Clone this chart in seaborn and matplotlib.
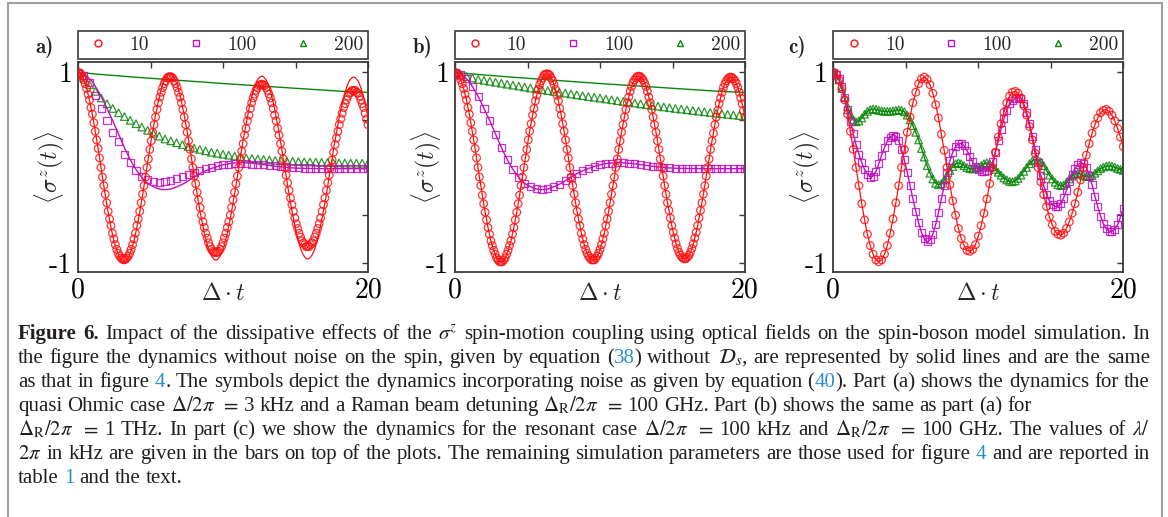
import re
import numpy as np
import matplotlib
matplotlib.use("Agg")
import matplotlib.pyplot as plt
import seaborn as sns
from matplotlib.lines import Line2D
from matplotlib.patches import Rectangle

W, H = 1168, 517

# ---------------- data ----------------
legend_labels = ["10", "100", "200"]

# noise-free dynamics (solid lines), shared by panels a and b
red_line = [1.00, 0.99, 0.98, 0.96, 0.92, 0.88, 0.83, 0.77, 0.71, 0.63, 0.56, 0.47, 0.38, 0.29, 0.20, 0.10, 0.00,
            -0.10, -0.19, -0.29, -0.38, -0.47, -0.55, -0.63, -0.70, -0.77, -0.82, -0.87, -0.91, -0.95, -0.97, -0.99,
            -0.99,
            -0.99, -0.97, -0.95, -0.91, -0.87, -0.82, -0.77, -0.70, -0.63, -0.55, -0.47, -0.38, -0.29, -0.19, -0.10, 0.00,
            0.10, 0.19, 0.29, 0.38, 0.46, 0.55, 0.62, 0.70, 0.76, 0.82, 0.87, 0.91, 0.94, 0.97, 0.98,
            0.985,
            0.98, 0.97, 0.94, 0.91, 0.87, 0.82, 0.76, 0.70, 0.62, 0.55, 0.46, 0.38, 0.29, 0.19, 0.10, 0.00,
            -0.10, -0.19, -0.28, -0.37, -0.46, -0.54, -0.61, -0.69, -0.75, -0.81, -0.86, -0.90, -0.93, -0.95, -0.97,
            -0.97,
            -0.97, -0.95, -0.93, -0.90, -0.86, -0.81, -0.75, -0.69, -0.61, -0.54, -0.46, -0.37, -0.28, -0.19, -0.10, 0.00,
            0.09, 0.19, 0.28, 0.37, 0.45, 0.53, 0.61, 0.68, 0.74, 0.80, 0.85, 0.89, 0.92, 0.94, 0.955,
            0.96,
            0.955, 0.94, 0.92, 0.89, 0.85, 0.80, 0.74, 0.68, 0.61, 0.53, 0.45, 0.37, 0.28, 0.19, 0.09, 0.00,
            -0.09, -0.19, -0.28, -0.37, -0.45, -0.53, -0.61, -0.68, -0.74, -0.80, -0.85, -0.89, -0.92, -0.94, -0.955,
            -0.96,
            -0.955, -0.94, -0.92, -0.89, -0.85, -0.80, -0.74, -0.68, -0.61, -0.53, -0.45, -0.37, -0.28, -0.19, -0.09, 0.00,
            0.09, 0.19, 0.28, 0.36, 0.45, 0.53, 0.60, 0.67, 0.73, 0.79, 0.84, 0.88, 0.91, 0.93, 0.945,
            0.95,
            0.945, 0.93, 0.91, 0.88, 0.84, 0.79, 0.73, 0.67, 0.60, 0.53]

magenta_line = [1.00, 0.995, 0.98, 0.96, 0.93, 0.90, 0.85, 0.80, 0.745, 0.685,
                0.62, 0.555, 0.49, 0.42, 0.35, 0.28, 0.21, 0.145, 0.085, 0.03,
                -0.02, -0.065, -0.105, -0.14, -0.165, -0.185, -0.20, -0.215, -0.225, -0.23,
                -0.232, -0.23, -0.225, -0.215, -0.203, -0.19, -0.175, -0.16, -0.14, -0.12,
                -0.10, -0.08, -0.065, -0.05, -0.035, -0.022, -0.01, 0.0, 0.01, 0.02,
                0.028, 0.034, 0.04, 0.044, 0.047, 0.049, 0.05, 0.05, 0.049, 0.047,
                0.045, 0.042, 0.038, 0.034, 0.03, 0.026, 0.022, 0.018, 0.014, 0.01,
                0.007, 0.004, 0.001, -0.002, -0.004, -0.006, -0.007, -0.008, -0.009, -0.01,
                -0.01, -0.011, -0.011, -0.011, -0.012, -0.012, -0.012, -0.012, -0.012, -0.012,
                -0.012, -0.012, -0.012, -0.012, -0.012, -0.012, -0.012, -0.012, -0.012, -0.012,
                -0.012]

green_line = [1.0, 0.985, 0.972, 0.96, 0.948, 0.937, 0.926, 0.915, 0.904, 0.893, 0.882,
              0.872, 0.862, 0.852, 0.842, 0.832, 0.822, 0.812, 0.802, 0.795, 0.788]

# panel a symbols (with spin noise, Delta_R/2pi = 100 GHz)
red_a_sym = [1.00, 0.99, 0.98, 0.96, 0.92, 0.88, 0.83, 0.77, 0.71, 0.63, 0.56, 0.47, 0.38, 0.29, 0.20, 0.10, 0.00,
             -0.10, -0.19, -0.28, -0.37, -0.46, -0.54, -0.61, -0.69, -0.75, -0.81, -0.86, -0.90, -0.93, -0.95, -0.965,
             -0.97,
             -0.965, -0.95, -0.93, -0.90, -0.86, -0.81, -0.75, -0.69, -0.61, -0.54, -0.46, -0.37, -0.28, -0.19, -0.10, 0.00,
             0.09, 0.19, 0.28, 0.37, 0.45, 0.53, 0.61, 0.68, 0.74, 0.79, 0.84, 0.88, 0.91, 0.94, 0.95,
             0.955,
             0.95, 0.94, 0.91, 0.88, 0.84, 0.79, 0.74, 0.68, 0.61, 0.53, 0.45, 0.37, 0.28, 0.19, 0.09, 0.00,
             -0.09, -0.17, -0.26, -0.34, -0.42, -0.50, -0.57, -0.63, -0.69, -0.74, -0.79, -0.83, -0.86, -0.88, -0.89,
             -0.895,
             -0.89, -0.88, -0.86, -0.83, -0.79, -0.74, -0.69, -0.63, -0.57, -0.50, -0.42, -0.34, -0.26, -0.17, -0.09, 0.00,
             0.09, 0.17, 0.25, 0.34, 0.41, 0.49, 0.55, 0.62, 0.68, 0.73, 0.77, 0.81, 0.84, 0.86, 0.87,
             0.875,
             0.87, 0.86, 0.84, 0.81, 0.77, 0.73, 0.68, 0.62, 0.55, 0.49, 0.41, 0.34, 0.25, 0.17, 0.09, 0.00,
             -0.08, -0.16, -0.24, -0.32, -0.39, -0.46, -0.53, -0.59, -0.64, -0.69, -0.73, -0.77, -0.79, -0.81, -0.83,
             -0.83,
             -0.83, -0.81, -0.79, -0.77, -0.73, -0.69, -0.64, -0.59, -0.53, -0.46, -0.39, -0.32, -0.24, -0.16, -0.08, 0.00,
             0.08, 0.16, 0.24, 0.31, 0.38, 0.45, 0.51, 0.57, 0.63, 0.67, 0.71, 0.75, 0.78, 0.79, 0.81,
             0.81,
             0.81, 0.79, 0.78, 0.75, 0.71, 0.67, 0.63, 0.57, 0.51, 0.45]

magenta_a_sym = [1.0, 0.97, 0.89, 0.76, 0.62, 0.49, 0.37, 0.27, 0.14, 0.05,
                 -0.03, -0.09, -0.13, -0.15, -0.155, -0.15, -0.135, -0.115, -0.095, -0.075,
                 -0.055, -0.035, -0.015, 0.005, 0.02, 0.03, 0.035, 0.04, 0.04, 0.04,
                 0.035, 0.035, 0.03, 0.025, 0.02, 0.015, 0.01, 0.005, 0.0, -0.005,
                 -0.005, -0.01, -0.01, -0.01, -0.01, -0.01, -0.01, -0.01, -0.01, -0.01,
                 -0.01]

green_a_sym = [1.0, 0.94, 0.87, 0.80, 0.73, 0.67, 0.62, 0.575, 0.535, 0.495,
               0.46, 0.425, 0.39, 0.36, 0.33, 0.30, 0.28, 0.26, 0.24, 0.22,
               0.205, 0.19, 0.175, 0.16, 0.15, 0.14, 0.13, 0.12, 0.11, 0.10,
               0.095, 0.09, 0.085, 0.08, 0.075, 0.07, 0.068, 0.065, 0.062, 0.06,
               0.058, 0.056, 0.054, 0.052, 0.05, 0.049, 0.048, 0.047, 0.046, 0.045,
               0.045]

# panel b symbols (Delta_R/2pi = 1 THz): red and magenta sit on the solid lines
green_b_sym = [1.0, 0.975, 0.955, 0.94, 0.925, 0.915, 0.905, 0.895, 0.885, 0.875,
               0.865, 0.855, 0.845, 0.835, 0.826, 0.817, 0.808, 0.799, 0.79, 0.781,
               0.772, 0.763, 0.754, 0.745, 0.737, 0.729, 0.72, 0.711, 0.702, 0.694,
               0.686, 0.677, 0.668, 0.66, 0.652, 0.644, 0.636, 0.628, 0.62, 0.613,
               0.606, 0.599, 0.592, 0.585, 0.578, 0.571, 0.565, 0.558, 0.552, 0.546,
               0.54]

# panel c (resonant case): symbols sit on the lines
red_c = [1.00, 0.98, 0.92, 0.83, 0.71, 0.56, 0.38, 0.19, 0.00,
         -0.19, -0.38, -0.55, -0.70, -0.82, -0.91, -0.97, -0.99,
         -0.97, -0.91, -0.82, -0.69, -0.54, -0.37, -0.19, 0.00,
         0.19, 0.37, 0.53, 0.68, 0.79, 0.88, 0.93, 0.95,
         0.925, 0.87, 0.78, 0.66, 0.52, 0.35, 0.18, 0.00,
         -0.18, -0.35, -0.50, -0.64, -0.745, -0.82, -0.87, -0.88,
         -0.86, -0.81, -0.72, -0.61, -0.48, -0.33, -0.17, 0.00,
         0.16, 0.32, 0.46, 0.58, 0.68, 0.75, 0.79, 0.80,
         0.78, 0.73, 0.65, 0.55, 0.43, 0.29, 0.15, 0.00,
         -0.15, -0.285, -0.41, -0.52, -0.60, -0.67, -0.70, -0.71,
         -0.69, -0.64, -0.57, -0.48, -0.38, -0.26, -0.13, 0.00,
         0.13, 0.25, 0.36, 0.45, 0.52, 0.575, 0.60, 0.61,
         0.59, 0.55, 0.49, 0.41, 0.32, 0.22]

magenta_c = [1.00, 0.98, 0.93, 0.85, 0.74, 0.61, 0.48, 0.36, 0.24, 0.14,
             0.05, -0.02, -0.07, -0.10, -0.09, -0.04, 0.04, 0.13, 0.21, 0.28,
             0.32, 0.34, 0.33, 0.28, 0.19, 0.08, -0.05, -0.19, -0.33, -0.46,
             -0.58, -0.68, -0.75, -0.78, -0.76, -0.70, -0.60, -0.47, -0.33, -0.19,
             -0.05, 0.07, 0.16, 0.22, 0.25, 0.255, 0.23, 0.18, 0.12, 0.06,
             0.01, -0.02, -0.04, -0.04, -0.03, 0.0, 0.06, 0.16, 0.28, 0.40,
             0.51, 0.60, 0.67, 0.70, 0.725, 0.735, 0.72, 0.67, 0.58, 0.46,
             0.33, 0.19, 0.05, -0.08, -0.19, -0.28, -0.35, -0.39, -0.41, -0.41,
             -0.38, -0.32, -0.24, -0.15, -0.07, -0.01, 0.03, 0.05, 0.04, 0.0,
             -0.08, -0.18, -0.30, -0.41, -0.51, -0.59, -0.64, -0.67, -0.67, -0.65,
             -0.60, -0.52, -0.43]

green_c = [1.0, 0.97, 0.92, 0.83, 0.74, 0.64, 0.56, 0.50, 0.48, 0.49,
           0.52, 0.56, 0.59, 0.61, 0.615, 0.61, 0.60, 0.595, 0.59, 0.59,
           0.59, 0.595, 0.60, 0.605, 0.60, 0.585, 0.55, 0.50, 0.44, 0.37,
           0.29, 0.20, 0.11, 0.02, -0.06, -0.12, -0.165, -0.18, -0.17, -0.13,
           -0.08, -0.03, 0.01, 0.04, 0.05, 0.04, 0.02, 0.0, -0.01, -0.015,
           -0.01, 0.0, 0.02, 0.04, 0.05, 0.04, 0.01, -0.02, -0.05, -0.08,
           -0.11, -0.13, -0.145, -0.15, -0.14, -0.115, -0.08, -0.04, 0.0, 0.04,
           0.07, 0.085, 0.08, 0.06, 0.02, -0.03, -0.08, -0.12, -0.155, -0.18,
           -0.19, -0.185, -0.16, -0.12, -0.09, -0.065, -0.06, -0.07, -0.085, -0.095,
           -0.095, -0.085, -0.06, -0.035, -0.01, 0.005, 0.015, 0.02, 0.015, 0.005,
           -0.01, -0.02, -0.03]

caption_lines = [
    r"Figure 6. Impact of the dissipative effects of the $\sigma^z$ spin-motion coupling using optical fields on the spin-boson model simulation. In",
    r"the figure the dynamics without noise on the spin, given by equation ([38]) without $\mathcal{D}_s$, are represented by solid lines and are the same",
    r"as that in figure [4]. The symbols depict the dynamics incorporating noise as given by equation ([40]). Part (a) shows the dynamics for the",
    r"quasi Ohmic case $\Delta/2\pi$ $=$ 3 kHz and a Raman beam detuning $\Delta_\mathrm{R}/2\pi$ $=$ 100 GHz. Part (b) shows the same as part (a) for",
    r"$\Delta_\mathrm{R}/2\pi$ $=$ 1 THz. In part (c) we show the dynamics for the resonant case $\Delta/2\pi$ $=$ 100 kHz and $\Delta_\mathrm{R}/2\pi$ $=$ 100 GHz. The values of $\lambda/$",
    r"$2\pi$ in kHz are given in the bars on top of the plots. The remaining simulation parameters are those used for figure [4] and are reported in",
    r"table [1] and the text.",
]
ragged_lines = {3, 6}   # lines that are not stretched to the full width

# ---------------- style ----------------
sns.set_style("white")
plt.rcParams["font.family"] = ["Liberation Serif", "DejaVu Serif"]

RED = "#ff1010"
MAG = "#c010c0"
GRN = "#0a860a"
FRAME = "#3a3a3a"
BLUE = "#2a8fd0"

fig = plt.figure(figsize=(W / 100, H / 100), dpi=100)
fig.patch.set_facecolor("white")


def tgrid(vals):
    return np.linspace(0, 20, len(vals))


def sym(ax, vals, color, marker, s, z):
    sns.scatterplot(x=tgrid(vals), y=np.asarray(vals), ax=ax, marker=marker, s=s,
                    color=color, facecolor="none", edgecolor=color, linewidth=0.9,
                    alpha=0.85, legend=False, zorder=z)


def line(ax, vals, color, lw, z):
    sns.lineplot(x=tgrid(vals), y=np.asarray(vals), ax=ax, color=color, linewidth=lw,
                 legend=False, errorbar=None, sort=False, zorder=z)


def setup(ax):
    ax.set_xlim(0, 20)
    ax.set_ylim(-1.097, 1.108)
    ax.set_xticks([0, 5, 10, 15, 20])
    ax.set_xticklabels(["0", "", "", "", "20"], fontfamily="cmr10", fontsize=20)
    ax.set_yticks([-1, -0.5, 0, 0.5, 1])
    ax.set_yticklabels(["-1", "", "", "", "1"], fontfamily="cmr10", fontsize=20)
    ax.tick_params(direction="in", length=4.5, width=1, top=True, right=True,
                   color=FRAME, labelcolor="black", pad=4)
    for sp in ax.spines.values():
        sp.set_linewidth(1.3)
        sp.set_color(FRAME)
    ax.set_xlabel(r"$\Delta\cdot t$", fontsize=17, math_fontfamily="cm")
    ax.xaxis.set_label_coords(0.5, -0.05)
    ax.set_ylabel(r"$\langle\sigma^z(t)\rangle$", fontsize=17, math_fontfamily="cm")
    ax.yaxis.set_label_coords(-0.04, 0.5)
    handles = [Line2D([], [], ls="", marker="o", mfc="none", mec=RED, ms=5, mew=1),
               Line2D([], [], ls="", marker="s", mfc="none", mec=MAG, ms=5, mew=1),
               Line2D([], [], ls="", marker="^", mfc="none", mec=GRN, ms=5, mew=1)]
    leg = ax.legend(handles, legend_labels, loc="lower left",
                    bbox_to_anchor=(0, 1.014, 1, 0.133), mode="expand", ncol=3,
                    borderaxespad=0, fancybox=False, edgecolor=FRAME, framealpha=1,
                    handlelength=1.6, handletextpad=0.8, borderpad=0.25,
                    columnspacing=1.0, prop={"family": "cmr10", "size": 14})
    leg.get_frame().set_linewidth(1.2)


axes_left = [78, 455, 833.3]
letters = ["a)", "b)", "c)"]
letter_x = [35, 413, 788]
axs = []
for lx in axes_left:
    axs.append(fig.add_axes([lx / W, 1 - 272 / H, 290 / W, 210 / H]))

# panel a
ax = axs[0]
sym(ax, green_a_sym, GRN, "^", 30, 2)
line(ax, green_line, GRN, 1.0, 3)
sym(ax, magenta_a_sym, MAG, "s", 26, 4)
line(ax, magenta_line, MAG, 1.0, 5)
sym(ax, red_a_sym, RED, "o", 30, 6)
line(ax, red_line, RED, 0.9, 7)

# panel b
ax = axs[1]
sym(ax, green_b_sym, GRN, "^", 30, 2)
line(ax, green_line, GRN, 1.0, 3)
sym(ax, magenta_line[::2], MAG, "s", 26, 4)
line(ax, magenta_line, MAG, 1.0, 5)
sym(ax, red_line, RED, "o", 30, 6)
line(ax, red_line, RED, 0.9, 7)

# panel c
ax = axs[2]
sym(ax, green_c, GRN, "^", 30, 2)
line(ax, green_c, GRN, 1.0, 3)
sym(ax, magenta_c, MAG, "s", 26, 4)
line(ax, magenta_c, MAG, 1.0, 5)
sym(ax, red_c, RED, "o", 30, 6)
line(ax, red_c, RED, 0.9, 7)

for ax, lt, lx in zip(axs, letters, letter_x):
    setup(ax)
    fig.text(lx / W, 1 - 47 / H, lt, family="cmb10", fontsize=15, va="center", ha="left")

# outer frame
fig.add_artist(Rectangle((8 / W, -0.02), (1162 - 8) / W, 1 - 3 / H + 0.02,
                         transform=fig.transFigure, fill=False, edgecolor="#a0a0a0", lw=1.5))

# ---------------- caption (justified) ----------------
renderer = fig.canvas.get_renderer()
CFS = 15.0
X0, X1 = 18, 1150
BASE0, DY = 339, 24


def make_word(word, bold):
    parts = []
    for p in re.split(r"(\[[^\]]*\])", word):
        if not p:
            continue
        if p.startswith("["):
            parts.append((p[1:-1], BLUE, bold))
        else:
            parts.append((p, "#231f20", bold))
    return parts


for li, text in enumerate(caption_lines):
    words = text.split(" ")
    objs = []
    total = 0.0
    for wi, wd in enumerate(words):
        bold = (li == 0 and wi < 2)
        parts = []
        wsum = 0.0
        for s, col, b in make_word(wd, bold):
            t = fig.text(0, 0, s, fontsize=CFS, color=col,
                         fontweight="bold" if b else "normal",
                         math_fontfamily="stix", va="baseline", ha="left")
            wpx = t.get_window_extent(renderer).width
            parts.append((t, wpx))
            wsum += wpx
        objs.append(parts)
        total += wsum
    n = len(objs)
    space = CFS * 100 / 72 * 0.25
    if li not in ragged_lines and n > 1:
        gap = (X1 - X0 - total) / (n - 1)
        if gap < 0.6 * space:
            gap = 0.6 * space
    else:
        gap = space
    x = X0
    y = 1 - (BASE0 + DY * li) / H
    for parts in objs:
        for t, wpx in parts:
            t.set_position((x / W, y))
            x += wpx
        x += gap

fig.savefig("out.png", dpi=100, facecolor="white")
